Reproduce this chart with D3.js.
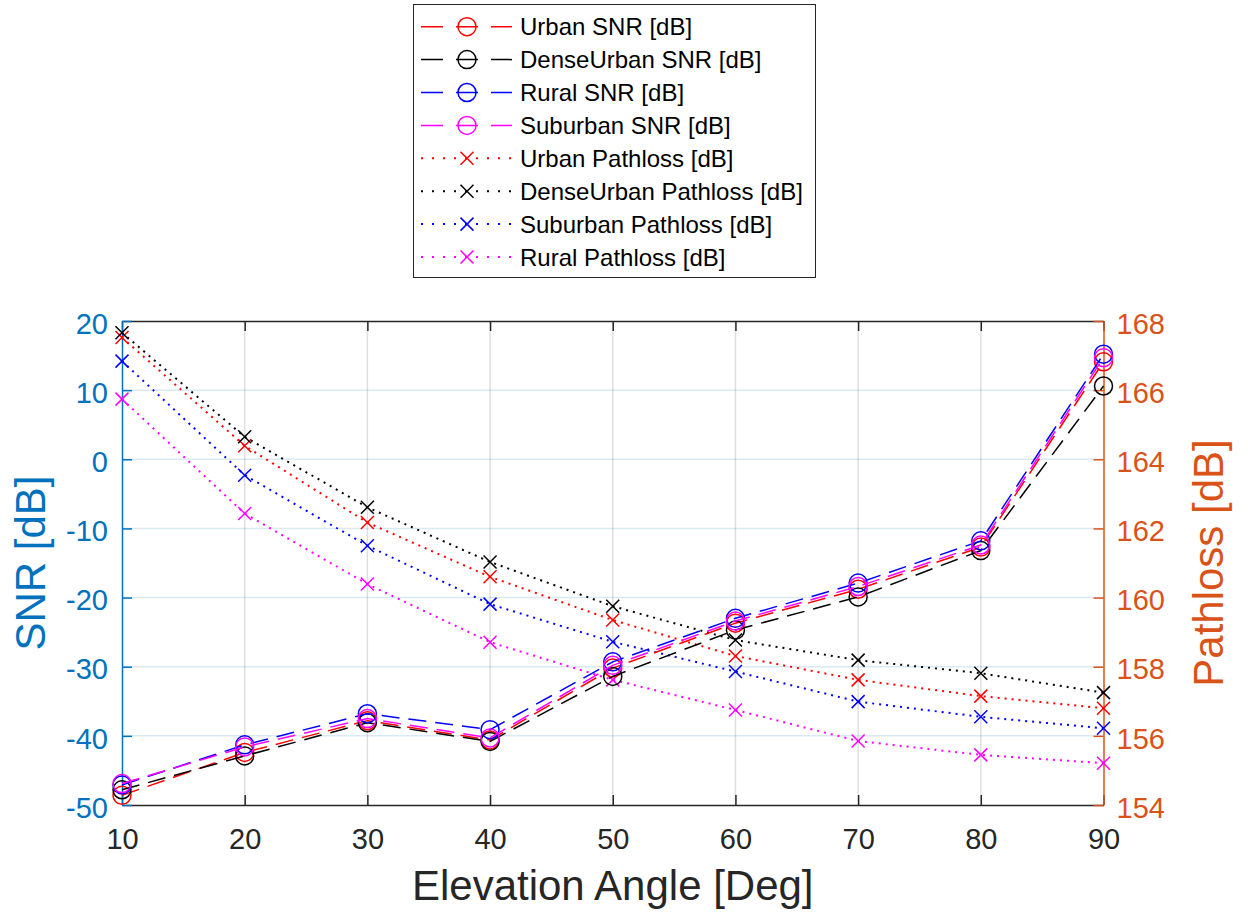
<!DOCTYPE html>
<html>
<head>
<meta charset="utf-8">
<script src="https://cdnjs.cloudflare.com/ajax/libs/d3/7.8.5/d3.min.js"></script>
<style>
  body { margin: 0; background: #fff; }
  text { font-family: "Liberation Sans", Arial, Helvetica, sans-serif; }
</style>
</head>
<body>
<div id="chart"></div>
<script>
// elevation angles (x)
var angles = [10, 20, 30, 40, 50, 60, 70, 80, 90];

// SNR series, left axis [dB]
var snrUrban    = [-48.6, -42.4, -37.8, -40.6, -30.2, -23.7, -18.8, -12.7, 14.1];
var snrDense    = [-47.8, -42.9, -38.1, -40.8, -31.4, -24.7, -19.9, -13.2, 10.6];
var snrRural    = [-47.1, -41.3, -36.8, -39.1, -29.3, -23.0, -17.9, -11.8, 15.2];
var snrSuburban = [-46.9, -41.6, -37.5, -40.3, -29.8, -23.4, -18.4, -12.4, 14.7];

// Pathloss series, right axis [dB]
var plUrban    = [167.52, 164.39, 162.17, 160.60, 159.35, 158.31, 157.62, 157.15, 156.80];
var plDense    = [167.66, 164.65, 162.61, 161.03, 159.75, 158.77, 158.19, 157.81, 157.25];
var plSuburban = [166.84, 163.54, 161.50, 159.81, 158.72, 157.86, 156.99, 156.55, 156.22];
var plRural    = [165.74, 162.43, 160.39, 158.71, 157.62, 156.75, 155.85, 155.45, 155.21];

var xTicks = [10, 20, 30, 40, 50, 60, 70, 80, 90];
var snrTicks = [-50, -40, -30, -20, -10, 0, 10, 20];
var plTicks = [154, 156, 158, 160, 162, 164, 166, 168];

var leftColor = "#0072BD", rightColor = "#D95319", axColor = "#262626";

var snrSeries = [
  {name: "Urban SNR [dB]", values: snrUrban, color: "#FF0000"},
  {name: "DenseUrban SNR [dB]", values: snrDense, color: "#000000"},
  {name: "Rural SNR [dB]", values: snrRural, color: "#0000FF"},
  {name: "Suburban SNR [dB]", values: snrSuburban, color: "#FF00FF"}
];
var plSeries = [
  {name: "Urban Pathloss [dB]", values: plUrban, color: "#FF0000"},
  {name: "DenseUrban Pathloss [dB]", values: plDense, color: "#000000"},
  {name: "Suburban Pathloss [dB]", values: plSuburban, color: "#0000FF"},
  {name: "Rural Pathloss [dB]", values: plRural, color: "#FF00FF"}
];

var width = 1248, height = 915;
// plot box (window.top is reserved, so use other names)
var pLeft = 122, pRight = 1103.5, pTop = 321, pBottom = 805;

var svg = d3.select("#chart").append("svg")
  .attr("width", width)
  .attr("height", height);

var x = d3.scaleLinear().domain([10, 90]).range([pLeft, pRight]);
var ySnr = d3.scaleLinear().domain([-50, 20]).range([pBottom, pTop]);
var yPl = d3.scaleLinear().domain([154, 168]).range([pBottom, pTop]);

// plain hyphen minus like the original
var fmt = d => String(d);

// grid
svg.append("g").selectAll("line").data(xTicks.slice(1, -1)).enter().append("line")
  .attr("x1", d => x(d)).attr("x2", d => x(d))
  .attr("y1", pTop).attr("y2", pBottom)
  .attr("stroke", axColor).attr("stroke-opacity", 0.15).attr("stroke-width", 1.5);
svg.append("g").selectAll("line").data(snrTicks.slice(1, -1)).enter().append("line")
  .attr("x1", pLeft).attr("x2", pRight)
  .attr("y1", d => ySnr(d)).attr("y2", d => ySnr(d))
  .attr("stroke", leftColor).attr("stroke-opacity", 0.15).attr("stroke-width", 1.5);

// axes
function styleAxis(g, color) {
  g.selectAll("path.domain").attr("stroke", color).attr("stroke-width", 1.5);
  g.selectAll(".tick line").attr("stroke", color).attr("stroke-width", 1.5);
  g.selectAll(".tick text").attr("fill", color).style("font-size", "29px")
    .style("font-family", "'Liberation Sans', Arial, sans-serif");
}

var gTop = svg.append("g").attr("transform", "translate(0," + pTop + ")")
  .call(d3.axisTop(x).tickValues(xTicks).tickSize(-10).tickSizeOuter(0).tickFormat(""));
styleAxis(gTop, axColor);

var gBottom = svg.append("g").attr("transform", "translate(0," + pBottom + ")")
  .call(d3.axisBottom(x).tickValues(xTicks).tickSize(-10).tickSizeOuter(0).tickPadding(23).tickFormat(fmt));
styleAxis(gBottom, axColor);

var gLeft = svg.append("g").attr("transform", "translate(" + pLeft + ",0)")
  .call(d3.axisLeft(ySnr).tickValues(snrTicks).tickSize(-10).tickSizeOuter(0).tickPadding(14).tickFormat(fmt));
styleAxis(gLeft, leftColor);
gLeft.selectAll(".tick text").attr("dy", "0.42em");

var gRight = svg.append("g").attr("transform", "translate(" + pRight + ",0)")
  .call(d3.axisRight(yPl).tickValues(plTicks).tickSize(-10).tickSizeOuter(0).tickPadding(13).tickFormat(fmt));
styleAxis(gRight, rightColor);
gRight.selectAll(".tick text").attr("dy", "0.42em");

// axis labels
svg.append("text")
  .attr("x", (pLeft + pRight) / 2).attr("y", 900)
  .attr("text-anchor", "middle")
  .attr("fill", axColor).style("font-size", "42px")
  .text("Elevation Angle [Deg]");

svg.append("text")
  .attr("transform", "translate(45," + ((pTop + pBottom) / 2) + ") rotate(-90)")
  .attr("text-anchor", "middle")
  .attr("fill", leftColor).style("font-size", "42px")
  .text("SNR [dB]");

svg.append("text")
  .attr("transform", "translate(1223," + ((pTop + pBottom) / 2) + ") rotate(-90)")
  .attr("text-anchor", "middle")
  .attr("fill", rightColor).style("font-size", "42px")
  .text("Pathloss [dB]");

// marker helpers
function drawCross(g, cx, cy, color, s) {
  g.append("path")
    .attr("d", "M" + (cx - s) + "," + (cy - s) + "L" + (cx + s) + "," + (cy + s) +
               "M" + (cx - s) + "," + (cy + s) + "L" + (cx + s) + "," + (cy - s))
    .attr("stroke", color).attr("stroke-width", 1.5).attr("fill", "none");
}

var plotG = svg.append("g");

// pathloss lines (dotted, x markers)
plSeries.forEach(function(s) {
  var line = d3.line().x((d, i) => x(angles[i])).y(d => yPl(d));
  plotG.append("path")
    .attr("d", line(s.values))
    .attr("fill", "none").attr("stroke", s.color)
    .attr("stroke-width", 2).attr("stroke-dasharray", "2,5");
  s.values.forEach(function(v, i) {
    drawCross(plotG, x(angles[i]), yPl(v), s.color, 6.5);
  });
});

// SNR lines (dashed, circle markers)
snrSeries.forEach(function(s) {
  var line = d3.line().x((d, i) => x(angles[i])).y(d => ySnr(d));
  plotG.append("path")
    .attr("d", line(s.values))
    .attr("fill", "none").attr("stroke", s.color)
    .attr("stroke-width", 1.5).attr("stroke-dasharray", "18,9");
  plotG.selectAll(null).data(s.values).enter().append("circle")
    .attr("cx", (d, i) => x(angles[i])).attr("cy", d => ySnr(d))
    .attr("r", 9)
    .attr("fill", "none").attr("stroke", s.color).attr("stroke-width", 1.5);
});

// legend
var legend = svg.append("g");
legend.append("rect")
  .attr("x", 413.5).attr("y", 4.5).attr("width", 402).attr("height", 273)
  .attr("fill", "#fff").attr("stroke", axColor).attr("stroke-width", 1);

var rowY0 = 26.7, rowStep = 32.9;
var allSeries = snrSeries.map(s => Object.assign({kind: "snr"}, s))
  .concat(plSeries.map(s => Object.assign({kind: "pl"}, s)));

allSeries.forEach(function(s, i) {
  var cy = rowY0 + i * rowStep;
  if (s.kind === "snr") {
    legend.append("line")
      .attr("x1", 421).attr("x2", 512).attr("y1", cy).attr("y2", cy)
      .attr("stroke", s.color).attr("stroke-width", 1.5)
      .attr("stroke-dasharray", "22,13");
    legend.append("circle")
      .attr("cx", 467).attr("cy", cy).attr("r", 9)
      .attr("fill", "none").attr("stroke", s.color).attr("stroke-width", 1.5);
  } else {
    legend.append("line")
      .attr("x1", 421).attr("x2", 512).attr("y1", cy).attr("y2", cy)
      .attr("stroke", s.color).attr("stroke-width", 2)
      .attr("stroke-dasharray", "2,9");
    drawCross(legend, 467, cy, s.color, 6.5);
  }
  legend.append("text")
    .attr("x", 520).attr("y", cy).attr("dy", "0.36em")
    .attr("fill", "#000").style("font-size", "24px")
    .text(s.name);
});
</script>
</body>
</html>
